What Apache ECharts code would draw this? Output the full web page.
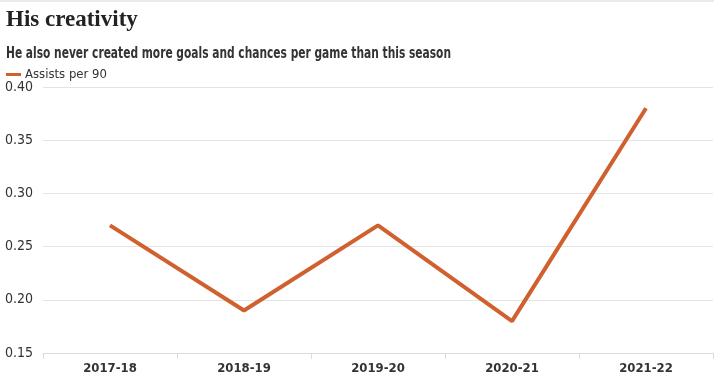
<!DOCTYPE html>
<html><head><meta charset="utf-8">
<script src="https://cdn.jsdelivr.net/npm/echarts@6/dist/echarts.min.js"></script>
<style>html,body{margin:0;padding:0;background:#fff}#c{width:714px;height:388px}</style>
</head><body><div id="c"></div>
<script>
const categories = ['2017-18','2018-19','2019-20','2020-21','2021-22'];
const assistsPer90 = [0.27, 0.19, 0.27, 0.18, 0.38];
const seriesName = 'Assists per 90';
const titleText = 'His creativity';
const subtitleText = 'He also never created more goals and chances per game than this season';

const COND = '"DejaVu Sans Condensed", sans-serif';
const chart = echarts.init(document.getElementById('c'));
chart.setOption({
  animation: false,
  backgroundColor: '#fff',
  graphic: [
    {type:'line', shape:{x1:0,y1:1,x2:714,y2:1}, style:{stroke:'#d6d6d6', lineWidth:1}},
    {type:'text', x:6, y:47, scaleX:0.79,
      style:{text: subtitleText, x:0, y:0, font:'bold 15px "DejaVu Sans Condensed"', fill:'#333', textVerticalAlign:'top'}}
  ],
  title: [
    {text: titleText, left: 1, top: 4, textStyle:{fontFamily:'"Liberation Serif", serif', fontWeight:'bold', fontSize:23, color:'#222'}}
  ],
  legend: {
    left: 1, top: 63, itemWidth: 15, itemHeight: 3, itemGap: 10,
    icon: 'rect',
    textStyle:{fontFamily:COND, fontSize:13, color:'#333', padding:[0,0,0,-1]},
    data:[seriesName]
  },
  grid: {left: 43, right: 1, top: 87, bottom: 35, containLabel: false},
  xAxis: {
    type:'category', data: categories, boundaryGap: true,
    axisLine:{lineStyle:{color:'#dcdcdc'}},
    axisTick:{show:true, length:6, lineStyle:{color:'#dcdcdc'}},
    axisLabel:{fontFamily:COND, fontWeight:'bold', fontSize:13, color:'#333', margin:9}
  },
  yAxis: {
    type:'value', min:0.15, max:0.40, interval:0.05,
    axisLine:{show:false}, axisTick:{show:false},
    splitLine:{lineStyle:{color:'#e3e3e3'}},
    axisLabel:{align:'left', margin:38, fontFamily:COND, fontSize:14, color:'#333',
      formatter: v => v.toFixed(2)}
  },
  series: [{
    name: seriesName, type:'line', data: assistsPer90,
    symbol:'none', lineStyle:{color:'#d0602e', width:4}, itemStyle:{color:'#d0602e'}
  }]
});
</script></body></html>
